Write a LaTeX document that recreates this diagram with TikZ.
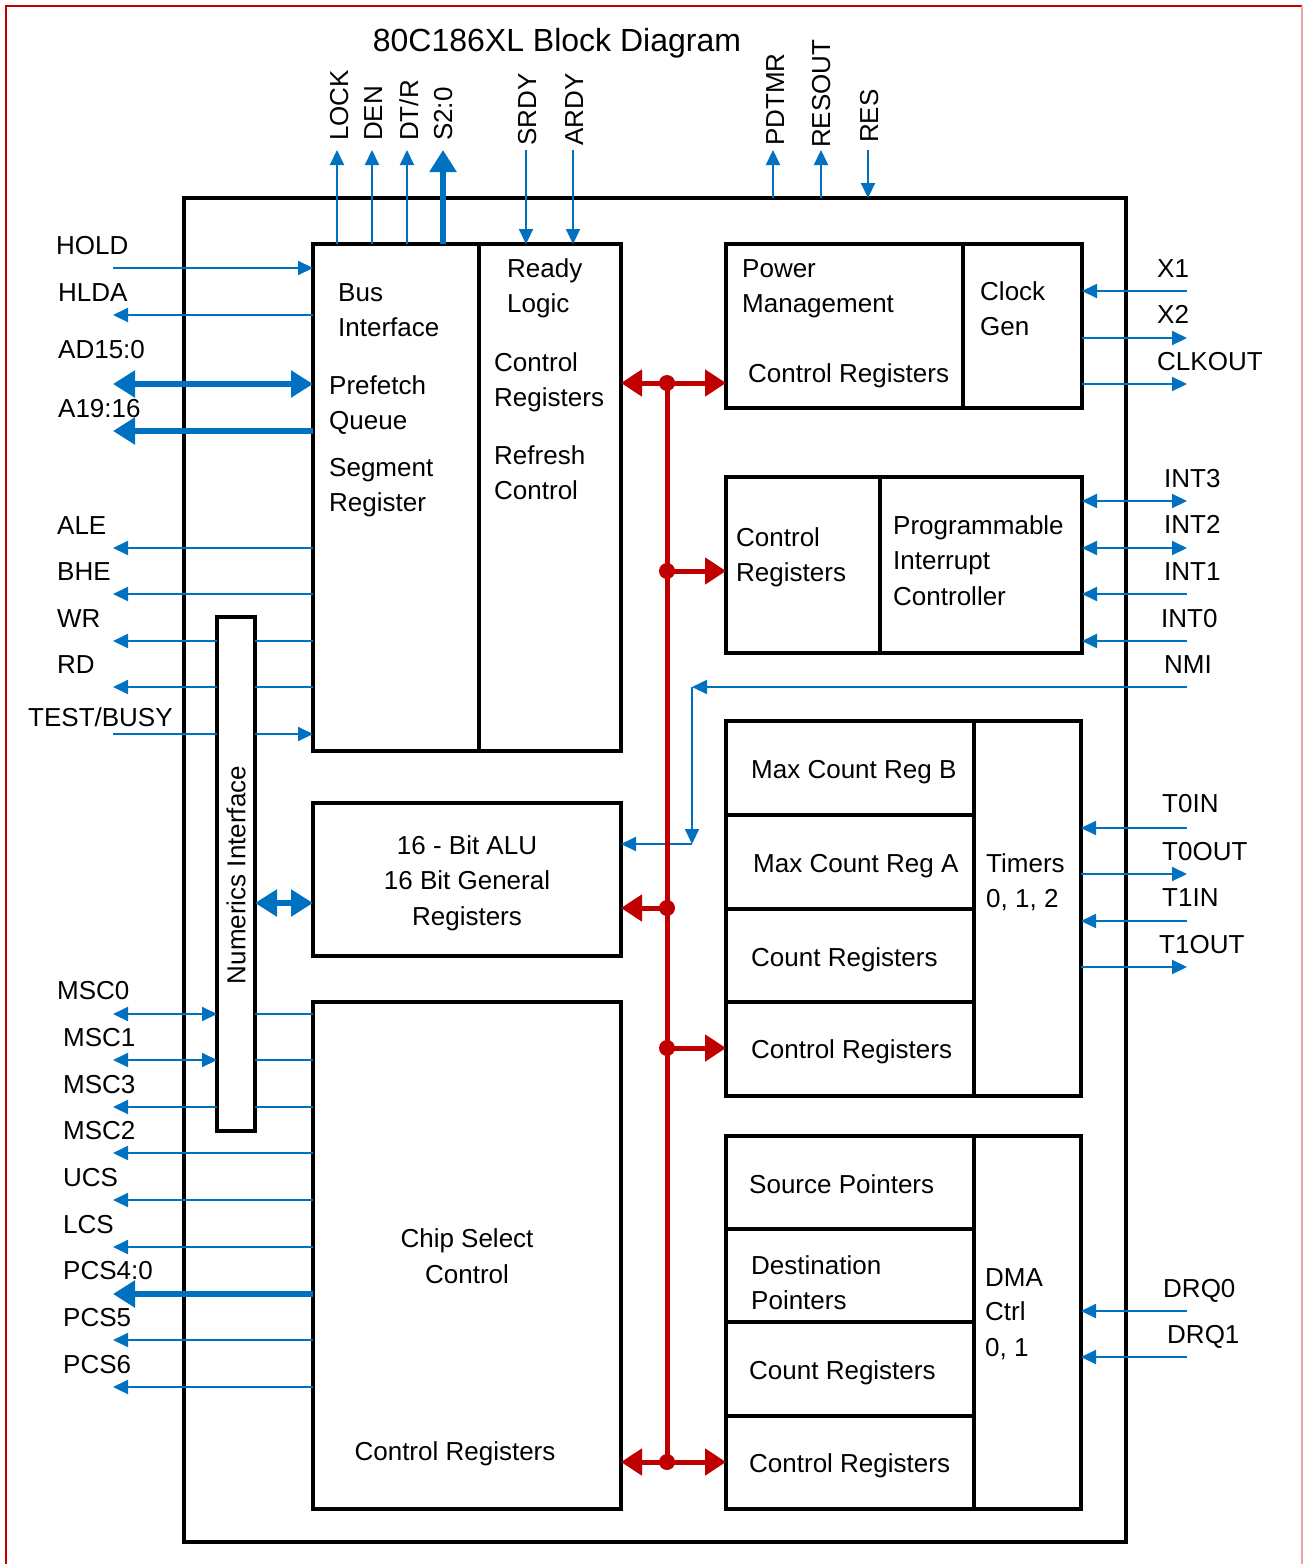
\documentclass[tikz,border=0pt]{standalone}
\usepackage{fontspec}
\setmainfont{Liberation Sans}
\usetikzlibrary{arrows.meta}
\definecolor{ublue}{HTML}{0070C0}
\definecolor{ured}{HTML}{C00000}
\begin{document}
\begin{tikzpicture}[x=1pt,y=-1pt,
  box/.style={draw, line width=3.5pt, inner sep=0pt, outer sep=0pt, anchor=north west},
  div/.style={line width=3.5pt},
  lbl/.style={font=\fontsize{26}{30}\selectfont, inner sep=0pt, anchor=base west},
  ctr/.style={font=\fontsize{26}{30}\selectfont, inner sep=0pt, anchor=base},
  vlbl/.style={font=\fontsize{26}{30}\selectfont, inner sep=0pt, anchor=base west, rotate=90},
  sig/.style={draw=ublue, line width=2pt},
  sigA/.style={sig, -{Triangle[length=15pt,width=14pt]}},
  sigAA/.style={sig, {Triangle[length=15pt,width=14pt]}-{Triangle[length=15pt,width=14pt]}},
  fat/.style={draw=ublue, line width=5.5pt},
  fatA/.style={fat, -{Triangle[length=22pt,width=26pt]}},
  fatAA/.style={fat, {Triangle[length=22pt,width=26pt]}-{Triangle[length=22pt,width=26pt]}},
  bus/.style={draw=ured, line width=5pt},
  busA/.style={bus, -{Triangle[length=21pt,width=26pt]}},
  busAA/.style={bus, {Triangle[length=21pt,width=26pt]}-{Triangle[length=21pt,width=26pt]}},
]
\useasboundingbox (0,0) rectangle (1304,1564);
% frame
\draw[ured, line width=1.5pt] (6,1564) -- (6,6) -- (1302,6);
\draw[ured!35, line width=1.5pt] (1302,6) -- (1302,1564);

% title
\node[font=\fontsize{32}{38}\selectfont, inner sep=0pt, anchor=base] (title) at (557,51) {80C186XL Block Diagram};

% boxes
\node[box, minimum width=942pt, minimum height=1344pt] (chip) at (184,198) {};
\node[box, minimum width=308pt, minimum height=507pt] (biu) at (313,244) {};
\draw[div] (479,244) -- (479,751);
\node[box, minimum width=356pt, minimum height=164pt] (pm) at (726,244) {};
\draw[div] (963,244) -- (963,408);
\node[box, minimum width=356pt, minimum height=176pt] (pic) at (726,477) {};
\draw[div] (880,477) -- (880,653);
\node[box, minimum width=355pt, minimum height=375pt] (tmr) at (726,721) {};
\draw[div] (974,721) -- (974,1096);
\draw[div] (726,815) -- (974,815);
\draw[div] (726,909) -- (974,909);
\draw[div] (726,1002) -- (974,1002);
\node[box, minimum width=355pt, minimum height=373pt] (dma) at (726,1136) {};
\draw[div] (974,1136) -- (974,1509);
\draw[div] (726,1229) -- (974,1229);
\draw[div] (726,1322) -- (974,1322);
\draw[div] (726,1416) -- (974,1416);
\node[box, minimum width=308pt, minimum height=153pt] (alu) at (313,803) {};
\node[box, minimum width=308pt, minimum height=507pt] (cs) at (313,1002) {};
\node[box, minimum width=38pt, minimum height=514pt] (num) at (217,617) {};

% block texts
\node[lbl] (bBus) at (338,301) {Bus};
\node[lbl] (bInt) at (338,336) {Interface};
\node[lbl] (bPre) at (329,394) {Prefetch};
\node[lbl] (bQue) at (329,429) {Queue};
\node[lbl] (bSeg) at (329,476) {Segment};
\node[lbl] (bReg) at (329,511) {Register};
\node[lbl] (rRdy) at (507,277) {Ready};
\node[lbl] (rLog) at (507,312) {Logic};
\node[lbl] (rCon) at (494,371) {Control};
\node[lbl] (rReg) at (494,406) {Registers};
\node[lbl] (rRef) at (494,464) {Refresh};
\node[lbl] (rCt2) at (494,499) {Control};
\node[lbl] (pPow) at (742,277) {Power};
\node[lbl] (pMan) at (742,312) {Management};
\node[lbl] (pCR) at (748,382) {Control Registers};
\node[lbl] (cClk) at (980,300) {Clock};
\node[lbl] (cGen) at (980,335) {Gen};
\node[lbl] (iCon) at (736,546) {Control};
\node[lbl] (iReg) at (736,581) {Registers};
\node[lbl] (iPro) at (893,534) {Programmable};
\node[lbl] (iInt) at (893,569) {Interrupt};
\node[lbl] (iCtl) at (893,605) {Controller};
\node[lbl] (tB) at (751,778) {Max Count Reg B};
\node[lbl] (tA) at (753,872) {Max Count Reg A};
\node[lbl] (tCnt) at (751,966) {Count Registers};
\node[lbl] (tCtl) at (751,1058) {Control Registers};
\node[lbl] (tT) at (986,872) {Timers};
\node[lbl] (tN) at (986,907) {0, 1, 2};
\node[lbl] (dSrc) at (749,1193) {Source Pointers};
\node[lbl] (dDst) at (751,1274) {Destination};
\node[lbl] (dPtr) at (751,1309) {Pointers};
\node[lbl] (dCnt) at (749,1379) {Count Registers};
\node[lbl] (dCtl) at (749,1472) {Control Registers};
\node[lbl] (dDMA) at (985,1286) {DMA};
\node[lbl] (dCtrl) at (985,1320) {Ctrl};
\node[lbl] (dN) at (985,1356) {0, 1};
\node[ctr] (aL1) at (467,854) {16 - Bit ALU};
\node[ctr] (aL2) at (467,889) {16 Bit General};
\node[ctr] (aL3) at (467,925) {Registers};
\node[ctr] (sL1) at (467,1247) {Chip Select};
\node[ctr] (sL2) at (467,1283) {Control};
\node[ctr] (sL3) at (455,1460) {Control Registers};
\node[font=\fontsize{26}{30}\selectfont, inner sep=0pt, rotate=90] (nTxt) at (236,875) {Numerics Interface};

% left labels
\node[lbl] (lHOLD) at (56,254) {HOLD};
\node[lbl] (lHLDA) at (58,301) {HLDA};
\node[lbl] (lAD) at (58,358) {AD15:0};
\node[lbl] (lA19) at (58,417) {A19:16};
\node[lbl] (lALE) at (57,534) {ALE};
\node[lbl] (lBHE) at (57,580) {BHE};
\node[lbl] (lWR) at (57,627) {WR};
\node[lbl] (lRD) at (57,673) {RD};
\node[lbl] (lTEST) at (28,726) {TEST/BUSY};
\node[lbl] (lMSC0) at (57,999) {MSC0};
\node[lbl] (lMSC1) at (63,1046) {MSC1};
\node[lbl] (lMSC3) at (63,1093) {MSC3};
\node[lbl] (lMSC2) at (63,1139) {MSC2};
\node[lbl] (lUCS) at (63,1186) {UCS};
\node[lbl] (lLCS) at (63,1233) {LCS};
\node[lbl] (lPCS) at (63,1279) {PCS4:0};
\node[lbl] (lPCS5) at (63,1326) {PCS5};
\node[lbl] (lPCS6) at (63,1373) {PCS6};

% right labels
\node[lbl] (gX1) at (1157,277) {X1};
\node[lbl] (gX2) at (1157,323) {X2};
\node[lbl] (gCLK) at (1157,370) {CLKOUT};
\node[lbl] (gI3) at (1164,487) {INT3};
\node[lbl] (gI2) at (1164,533) {INT2};
\node[lbl] (gI1) at (1164,580) {INT1};
\node[lbl] (gI0) at (1161,627) {INT0};
\node[lbl] (gNMI) at (1164,673) {NMI};
\node[lbl] (gT0I) at (1162,812) {T0IN};
\node[lbl] (gT0O) at (1162,860) {T0OUT};
\node[lbl] (gT1I) at (1162,906) {T1IN};
\node[lbl] (gT1O) at (1159,953) {T1OUT};
\node[lbl] (gD0) at (1163,1297) {DRQ0};
\node[lbl] (gD1) at (1167,1343) {DRQ1};

% top labels
\node[vlbl] (uLOCK) at (348,141) {LOCK};
\node[vlbl] (uDEN) at (382,141) {DEN};
\node[vlbl] (uDTR) at (418,141) {DT/R};
\node[vlbl] (uS) at (452,141) {S2:0};
\node[vlbl] (uSRDY) at (536,146) {SRDY};
\node[vlbl] (uARDY) at (583,146) {ARDY};
\node[vlbl] (uPD) at (784,146) {PDTMR};
\node[vlbl] (uRO) at (830,148) {RESOUT};
\node[vlbl] (uRES) at (878,143) {RES};

% ---- left connectors
\coordinate (pHOLD) at (113,268);
\draw[sigA] (pHOLD) -- (pHOLD -| biu.west);
\coordinate (pHLDA) at (113,315);
\draw[sigA] (pHLDA -| biu.west) -- (pHLDA);
\coordinate (pAD) at (113,384);
\draw[fatAA] (pAD) -- (pAD -| biu.west);
\coordinate (pA19) at (113,431);
\draw[fatA] (pA19 -| biu.west) -- (pA19);
\coordinate (pALE) at (113,548);
\draw[sigA] (pALE -| biu.west) -- (pALE);
\coordinate (pBHE) at (113,594);
\draw[sigA] (pBHE -| biu.west) -- (pBHE);
\coordinate (pWR) at (113,641);
\draw[sig] (pWR -| biu.west) -- (pWR -| num.east);
\draw[sigA] (pWR -| num.west) -- (pWR);
\coordinate (pRD) at (113,687);
\draw[sig] (pRD -| biu.west) -- (pRD -| num.east);
\draw[sigA] (pRD -| num.west) -- (pRD);
\coordinate (pTEST) at (113,734);
\draw[sig] (pTEST) -- (pTEST -| num.west);
\draw[sigA] (pTEST -| num.east) -- (pTEST -| biu.west);
\coordinate (pNA) at (255,903);
\draw[fatAA] (pNA) -- (pNA -| alu.west);
\coordinate (pM0) at (113,1014);
\draw[sigAA] (pM0) -- (pM0 -| num.west);
\draw[sig] (pM0 -| num.east) -- (pM0 -| cs.west);
\coordinate (pM1) at (113,1060);
\draw[sigAA] (pM1) -- (pM1 -| num.west);
\draw[sig] (pM1 -| num.east) -- (pM1 -| cs.west);
\coordinate (pM3) at (113,1107);
\draw[sigA] (pM3 -| num.west) -- (pM3);
\draw[sig] (pM3 -| num.east) -- (pM3 -| cs.west);
\coordinate (pM2) at (113,1153);
\draw[sigA] (pM2 -| cs.west) -- (pM2);
\coordinate (pUCS) at (113,1200);
\draw[sigA] (pUCS -| cs.west) -- (pUCS);
\coordinate (pLCS) at (113,1247);
\draw[sigA] (pLCS -| cs.west) -- (pLCS);
\coordinate (pPCS) at (113,1294);
\draw[fatA] (pPCS -| cs.west) -- (pPCS);
\coordinate (pPCS5) at (113,1340);
\draw[sigA] (pPCS5 -| cs.west) -- (pPCS5);
\coordinate (pPCS6) at (113,1387);
\draw[sigA] (pPCS6 -| cs.west) -- (pPCS6);

% ---- top connectors
\coordinate (tLOCK) at (337,150);
\draw[sigA] (tLOCK |- biu.north) -- (tLOCK);
\coordinate (tDEN) at (372,150);
\draw[sigA] (tDEN |- biu.north) -- (tDEN);
\coordinate (tDTR) at (407,150);
\draw[sigA] (tDTR |- biu.north) -- (tDTR);
\coordinate (tS) at (443,150);
\draw[fatA] (tS |- biu.north) -- (tS);
\coordinate (tSRDY) at (526,150);
\draw[sigA] (tSRDY) -- (tSRDY |- biu.north);
\coordinate (tARDY) at (573,150);
\draw[sigA] (tARDY) -- (tARDY |- biu.north);
\coordinate (tPD) at (773,150);
\draw[sigA] (tPD |- chip.north) -- (tPD);
\coordinate (tRO) at (821,150);
\draw[sigA] (tRO |- chip.north) -- (tRO);
\coordinate (tRES) at (868,150);
\draw[sigA] (tRES) -- (tRES |- chip.north);

% ---- right connectors
\coordinate (rX1) at (1187,291);
\draw[sigA] (rX1) -- (rX1 -| pm.east);
\coordinate (rX2) at (1187,338);
\draw[sigA] (rX2 -| pm.east) -- (rX2);
\coordinate (rCLK) at (1187,384);
\draw[sigA] (rCLK -| pm.east) -- (rCLK);
\coordinate (rI3) at (1187,501);
\draw[sigAA] (rI3 -| pic.east) -- (rI3);
\coordinate (rI2) at (1187,548);
\draw[sigAA] (rI2 -| pic.east) -- (rI2);
\coordinate (rI1) at (1187,594);
\draw[sigA] (rI1) -- (rI1 -| pic.east);
\coordinate (rI0) at (1187,641);
\draw[sigA] (rI0) -- (rI0 -| pic.east);
\coordinate (rNMI) at (1187,687);
\coordinate (nmiA) at (692,687);
\coordinate (nmiB) at (692,844);
\draw[sigA] (rNMI) -- (nmiA);
\draw[sigA] (nmiA) -- (nmiB);
\draw[sigA] (nmiB) -- (nmiB -| alu.east);
\coordinate (rT0I) at (1187,828);
\draw[sigA] (rT0I) -- (rT0I -| tmr.east);
\coordinate (rT0O) at (1187,874);
\draw[sigA] (rT0O -| tmr.east) -- (rT0O);
\coordinate (rT1I) at (1187,921);
\draw[sigA] (rT1I) -- (rT1I -| tmr.east);
\coordinate (rT1O) at (1187,967);
\draw[sigA] (rT1O -| tmr.east) -- (rT1O);
\coordinate (rD0) at (1187,1311);
\draw[sigA] (rD0) -- (rD0 -| dma.east);
\coordinate (rD1) at (1187,1357);
\draw[sigA] (rD1) -- (rD1 -| dma.east);

% ---- internal red bus
\coordinate (j1) at (667,383);
\coordinate (j2) at (667,571);
\coordinate (j3) at (667,908);
\coordinate (j4) at (667,1048);
\coordinate (j5) at (667,1462);
\draw[bus] (j1) -- (j5);
\draw[busAA] (j1 -| biu.east) -- (j1 -| pm.west);
\draw[busA] (j2) -- (j2 -| pic.west);
\draw[busA] (j3) -- (j3 -| alu.east);
\draw[busA] (j4) -- (j4 -| tmr.west);
\draw[busAA] (j5 -| cs.east) -- (j5 -| dma.west);
\foreach \j in {j1,j2,j3,j4,j5} \fill[ured] (\j) circle (8);
\end{tikzpicture}
\end{document}
